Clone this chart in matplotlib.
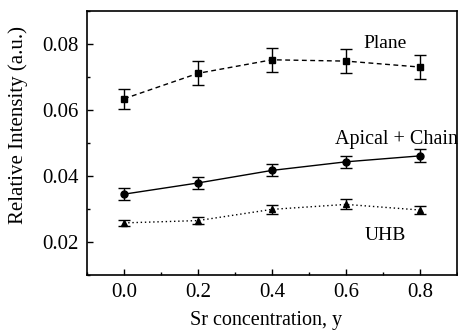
import matplotlib
matplotlib.use('Agg')
import matplotlib.pyplot as plt
from matplotlib.ticker import MultipleLocator

plt.rcParams['font.family'] = ['Liberation Serif', 'DejaVu Serif']

sr = [0.0, 0.2, 0.4, 0.6, 0.8]
plane = [0.0634, 0.0711, 0.0752, 0.0748, 0.0730]
plane_err = [0.0031, 0.0036, 0.0036, 0.0036, 0.0036]
apical = [0.0345, 0.0379, 0.0417, 0.0443, 0.0461]
apical_err = [0.0018, 0.0018, 0.0018, 0.0019, 0.0020]
uhb = [0.0258, 0.0265, 0.0299, 0.0314, 0.0297]
uhb_err = [0.0010, 0.0010, 0.0014, 0.0015, 0.0013]

fig = plt.figure(figsize=(4.58, 3.31), dpi=100)
ax = fig.add_axes([0.19, 0.169, 0.808, 0.798])

kw = dict(color='black', ecolor='black', capsize=4.3, elinewidth=1.0,
          capthick=1.0, markersize=5, linewidth=1.0)
ax.errorbar(sr, plane, yerr=plane_err, fmt='s', linestyle=(0, (3.5, 2.5)), **kw)
ax.errorbar(sr, apical, yerr=apical_err, fmt='o', linestyle='-', **kw)
ax.errorbar(sr, uhb, yerr=uhb_err, fmt='^', linestyle=(0, (1, 2)), **kw)

ax.text(0.706, 0.080, 'Plane', fontsize=14, ha='center', va='center')
ax.text(0.902, 0.0512, 'Apical + Chain', fontsize=14.5, ha='right', va='center')
ax.text(0.706, 0.0221, 'UHB', fontsize=14, ha='center', va='center')

ax.set_xlim(-0.1, 0.9)
ax.set_ylim(0.01, 0.09)
ax.set_xticks([0.0, 0.2, 0.4, 0.6, 0.8])
ax.set_yticks([0.02, 0.04, 0.06, 0.08])
ax.xaxis.set_minor_locator(MultipleLocator(0.1))
ax.yaxis.set_minor_locator(MultipleLocator(0.01))
ax.tick_params(which='both', direction='in', labelsize=15, width=1.0, pad=6)
ax.tick_params(which='major', length=4)
ax.tick_params(which='minor', length=2.5)
ax.tick_params(top=False, right=False, which='both')
for s in ax.spines.values():
    s.set_linewidth(1.2)

ax.set_xlabel('Sr concentration, y', fontsize=14.5)
ax.set_ylabel('Relative Intensity (a.u.)', fontsize=15)
ax.xaxis.set_label_coords(0.485, -0.135)
ax.yaxis.set_label_coords(-0.16, 0.57)

fig.savefig('out.png', dpi=100)
